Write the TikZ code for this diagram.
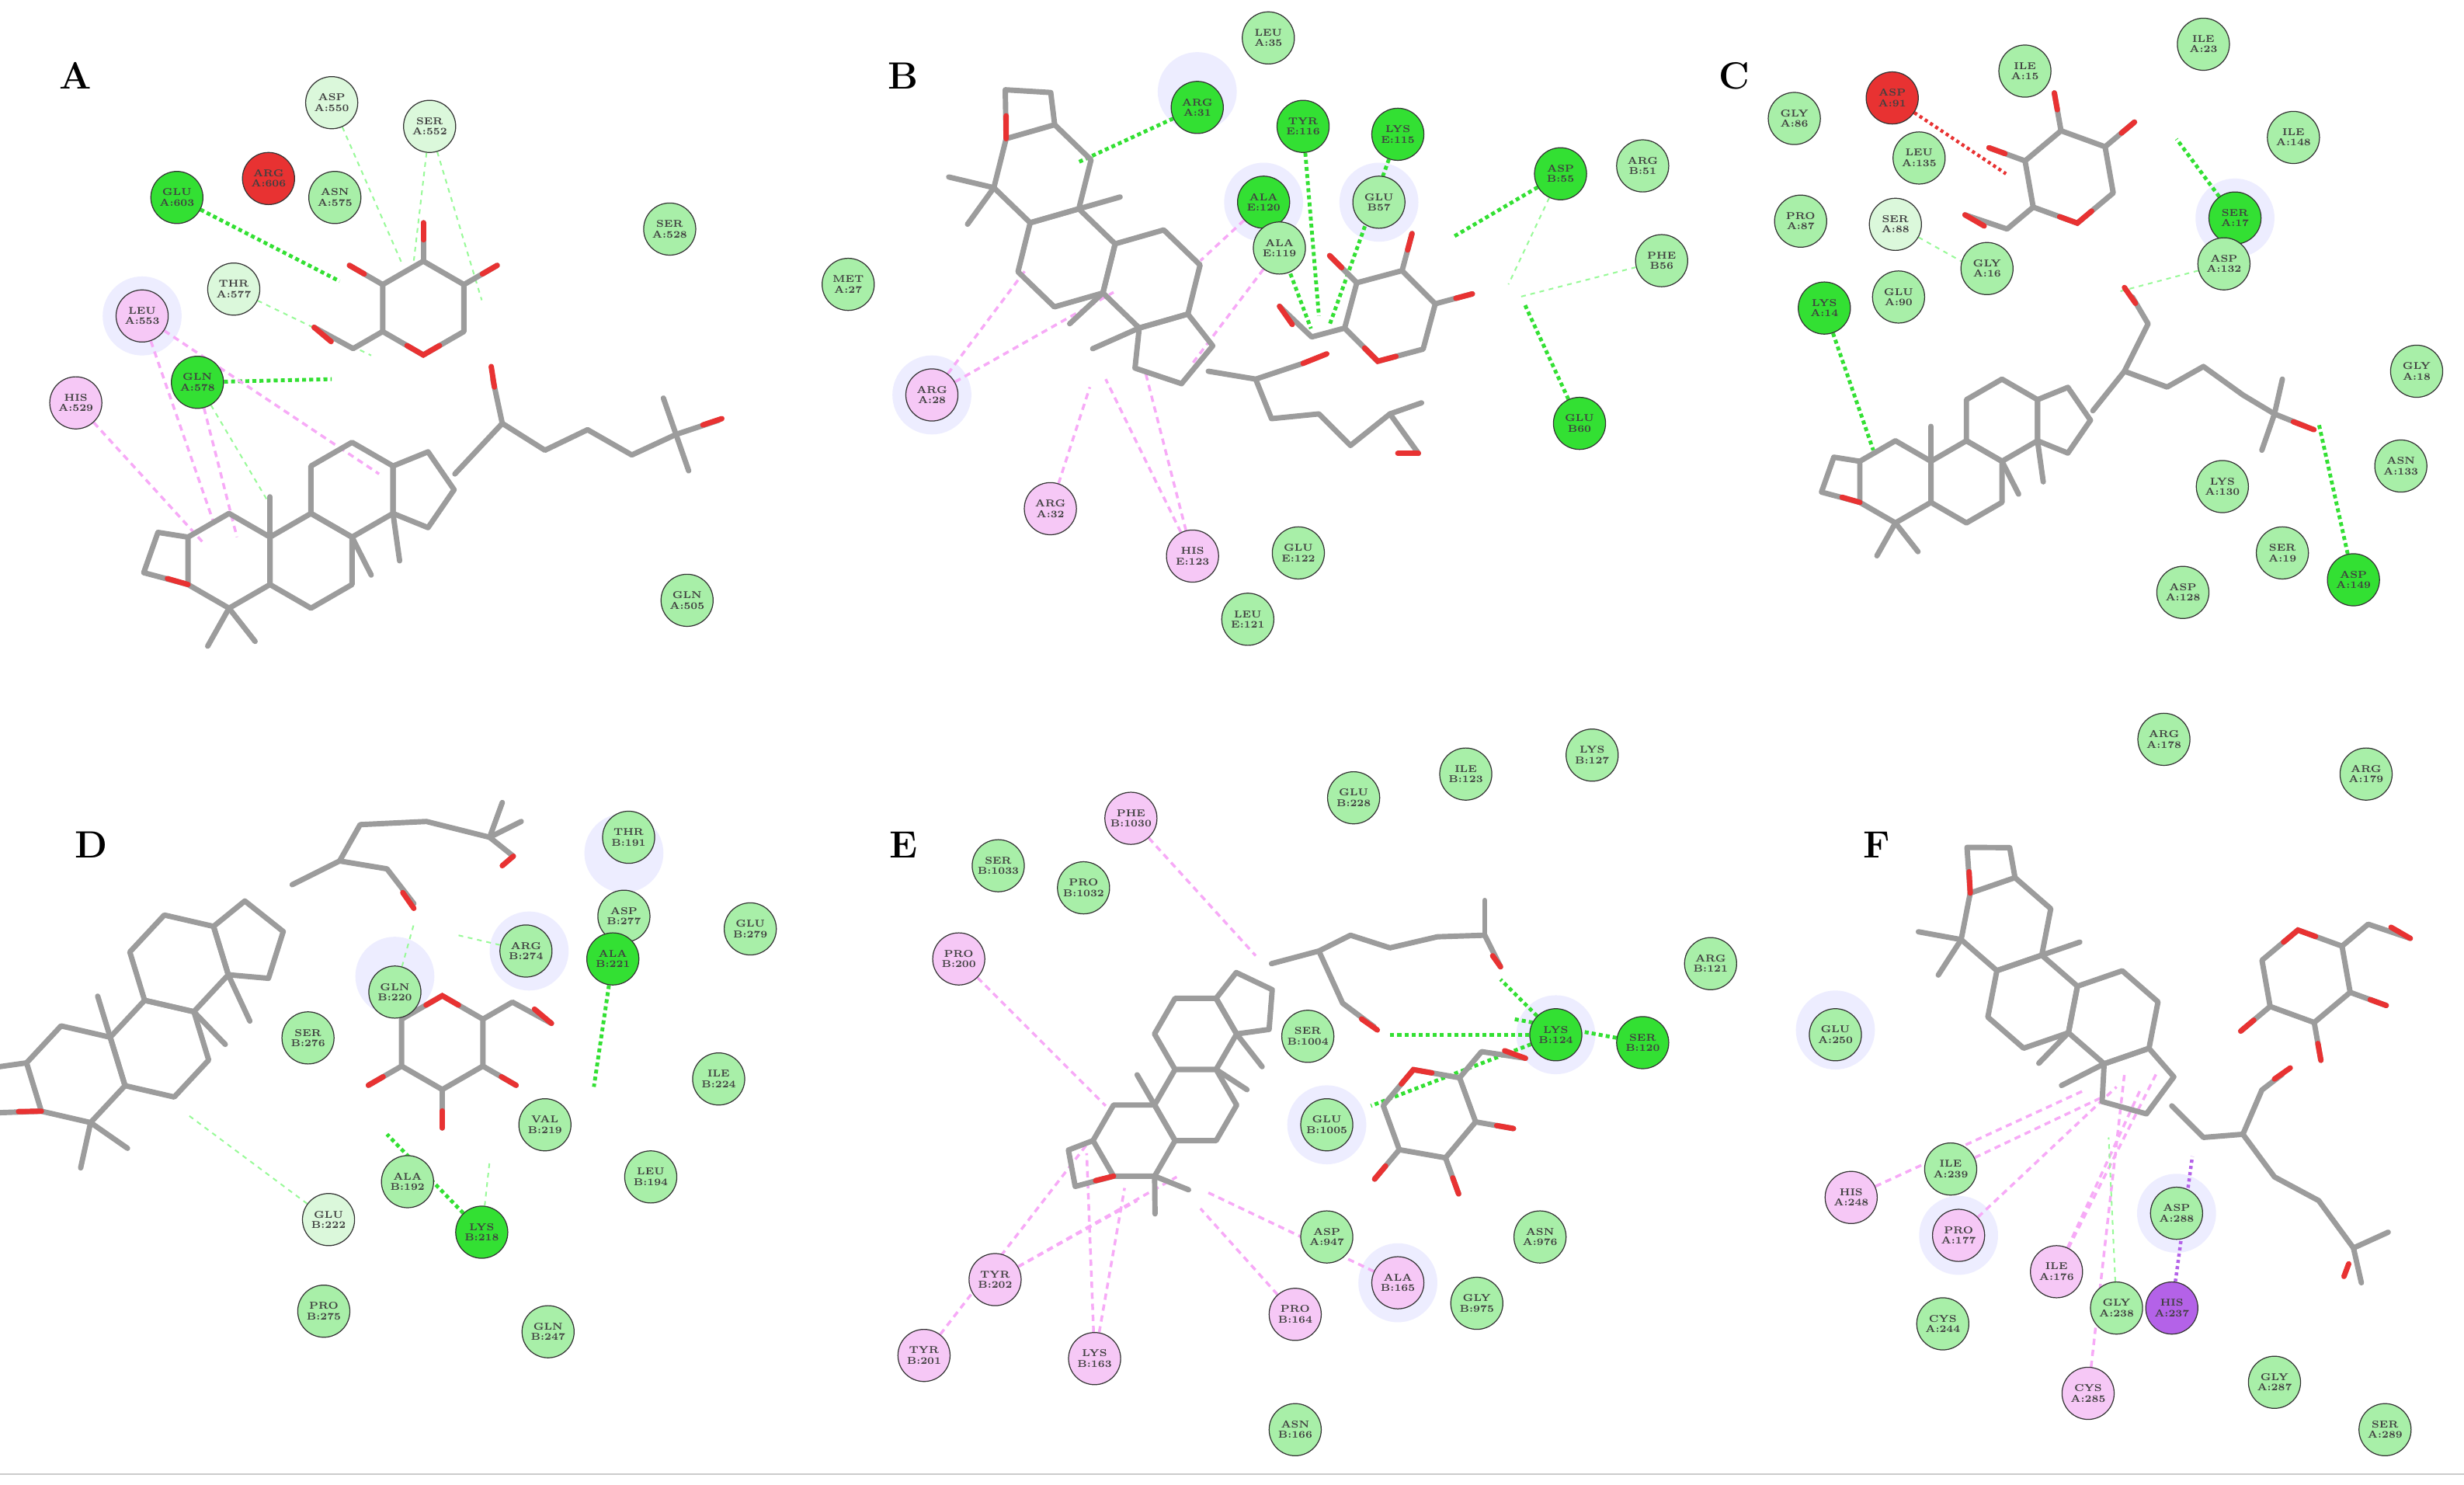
\documentclass[tikz,border=0pt]{standalone}
\usetikzlibrary{calc}
\pgfdeclarelayer{bg}
\pgfdeclarelayer{back}
\pgfsetlayers{back,bg,main}
\definecolor{cbr}{HTML}{33E033}
\definecolor{clt}{HTML}{A8EFA8}
\definecolor{cpl}{HTML}{DBF8DB}
\definecolor{cpk}{HTML}{F6C8F6}
\definecolor{crd}{HTML}{E83232}
\definecolor{cpu}{HTML}{B462E8}
\definecolor{cmol}{HTML}{9C9C9C}
\tikzset{
 x=1pt,y=-1pt,
 res/.style={circle,draw=black!80,line width=0.6pt,minimum size=33pt,inner sep=0pt,align=center,
   font=\fontsize{6.3}{6.6}\selectfont\bfseries,text=black!75},
 halo/.style={circle,fill=blue!7,minimum size=50pt},
 mol/.style={draw=cmol,line width=3.4pt,line join=round,line cap=round},
 molO/.style={draw=crd,line width=3.4pt,line cap=round},
 hb/.style={draw=cbr,line width=2.4pt,dash pattern=on 2.5pt off 2pt},
 rb/.style={draw=crd,line width=2.2pt,dash pattern=on 2pt off 2pt},
 pb/.style={draw=cpu,line width=2.2pt,dash pattern=on 2pt off 2pt},
 pk/.style={draw=cpk!85!magenta,line width=1.7pt,dash pattern=on 4pt off 3pt},
 pl/.style={draw=cpl!70!green,line width=1pt,dash pattern=on 3pt off 3pt},
 plab/.style={font=\fontsize{24}{24}\selectfont\bfseries},
 ster/.pic={
  \foreach \cx/\cy in {0/0,34.6/0,51.9/-30}
   \draw[mol] (\cx,\cy) +(30:20) -- +(90:20) -- +(150:20) -- +(210:20) -- +(270:20) -- +(330:20) -- cycle;
  \draw[mol] (69.2,-40)--(69.2,-20)--(84,-14)--(95,-30)--(84,-46)--cycle;
  \draw[mol] (17.3,-10)--(17.3,-27);
  \draw[mol] (51.9,-10)--(60,6);
  \draw[mol] (69.2,-20)--(72,0);
  \draw[mol] (-17.3,10)--(-36,5)--(-30,-12)--(-17.3,-10);
  \draw[molO] (-17.3,10)--(-26,7.5);
  \draw[mol] (0,20)--(-9,36);
  \draw[mol] (0,20)--(11,34);
 },
 sugar/.pic={
  \draw[mol] (30:22)--(90:22)--(150:22)--(210:22)--(270:22)--(330:22)--cycle;
  \draw[molO] ($(90:22)!0.4!(30:22)$)--(90:22)--($(90:22)!0.4!(150:22)$);
  \draw[mol] (330:22)--(330:40); \draw[molO] (330:32)--(330:40);
  \draw[mol] (210:22)--(210:40); \draw[molO] (210:32)--(210:40);
  \draw[mol] (270:22)--(270:40); \draw[molO] (270:32)--(270:40);
  \draw[mol] (150:22)--(150:38)--(170:52); \draw[molO] (160:46)--(170:52);
 }
}
\newcommand\res[5]{\node[res,fill=#5] (#1) at (#2) {#3\\#4};}
\begin{document}
\begin{tikzpicture}
\useasboundingbox (0,0) rectangle (1560,940);
\begin{pgfonlayer}{back}
\fill[white] (0,0) rectangle (1560,940);
\draw[gray!40,line width=0.8pt] (0,933)--(1560,933);
\foreach \p in {(90,200),(590,250),(758,58),(800,128),(873,128),(1415,138),(250,618),(335,602),(395,540),(985,655),(1378,768),(1240,782),(840,712),(1162,652),(885,812)}
 \node[halo] at \p {};
\end{pgfonlayer}
% labels
\node[plab] at (48,48) {A};
\node[plab] at (572,48) {B};
\node[plab] at (1098,48) {C};
\node[plab] at (58,535) {D};
\node[plab] at (572,535) {E};
\node[plab] at (1188,535) {F};
% ===== molecules =====
% A
\pic[scale=1.5] at (145,355) {ster};
\draw[mol] (288,300)--(318,268)--(345,285)--(372,272)--(400,288)--(428,275);
\draw[mol] (428,275)--(420,252); \draw[mol] (428,275)--(436,298);
\draw[mol] (428,275)--(455,266); \draw[molO] (445,269)--(457,265);
\draw[mol] (318,268)--(312,240); \draw[molO] (313,245)--(311,232);
\pic[scale=1.35] at (268,195) {sugar};
% B
\pic[scale=1.6,rotate=-74] at (660,110) {ster};
\draw[mol] (765,235)--(795,240)--(825,230); \draw[molO] (825,230)--(840,224);
\draw[mol] (795,240)--(805,265)--(835,262)--(855,282)--(880,262)--(898,287);
\draw[mol] (880,262)--(900,255); \draw[molO] (885,287)--(898,287);
\pic[scale=1.35,rotate=-15] at (880,200) {sugar};
% C
\pic[scale=1.3] at (1200,305) {ster};
\draw[mol] (1325,260)--(1345,235)--(1360,205)--(1350,188); \draw[molO] (1352,192)--(1345,182);
\draw[mol] (1345,235)--(1372,245)--(1395,232)--(1420,250)--(1440,262)--(1460,270);
\draw[mol] (1440,262)--(1445,240); \draw[mol] (1440,262)--(1432,285); \draw[molO] (1452,267)--(1465,272);
\pic[scale=1.35,rotate=10] at (1310,112) {sugar};
% D
\pic[scale=1.6,rotate=17] at (48,680) {ster};
\draw[mol] (185,560)--(215,545)--(245,550)--(262,572); \draw[molO] (255,565)--(262,575);
\draw[mol] (215,545)--(228,522)--(270,520)--(310,530)--(325,542);
\draw[mol] (310,530)--(318,508); \draw[mol] (310,530)--(330,520); \draw[molO] (318,548)--(325,542);
\pic[scale=1.35,rotate=180] at (280,660) {sugar};
% E
\pic[scale=1.3,rotate=30] at (718,722) {ster};
\draw[mol] (805,610)--(835,602)--(855,592)--(880,600)--(910,593)--(940,592);
\draw[mol] (940,592)--(940,570); \draw[mol] (940,592)--(950,612); \draw[molO] (945,605)--(950,612);
\draw[mol] (835,602)--(850,635)--(870,650); \draw[molO] (862,645)--(872,652);
\pic[scale=1.35,rotate=200] at (905,705) {sugar};
% F
\pic[scale=1.5,rotate=-71] at (1270,585) {ster};
\draw[mol] (1375,700)--(1395,720)--(1420,718)--(1440,745)--(1468,760)--(1490,790);
\draw[mol] (1490,790)--(1512,780); \draw[mol] (1490,790)--(1495,812); \draw[molO] (1487,800)--(1484,808);
\draw[mol] (1420,718)--(1432,690)--(1445,680); \draw[molO] (1440,683)--(1450,676);
\pic[scale=1.35,rotate=190] at (1460,618) {sugar};
% ===== residues =====
% A
\res{a550}{210,65}{ASP}{A:550}{cpl}
\res{a552}{272,80}{SER}{A:552}{cpl}
\res{a603}{112,125}{GLU}{A:603}{cbr}
\res{a606}{170,113}{ARG}{A:606}{crd}
\res{a575}{212,125}{ASN}{A:575}{clt}
\res{a528}{424,145}{SER}{A:528}{clt}
\res{a577}{148,183}{THR}{A:577}{cpl}
\res{a553}{90,200}{LEU}{A:553}{cpk}
\res{a578}{125,242}{GLN}{A:578}{cbr}
\res{a529}{48,255}{HIS}{A:529}{cpk}
\res{a505}{435,380}{GLN}{A:505}{clt}
% B
\res{b35}{803,24}{LEU}{A:35}{clt}
\res{b31}{758,68}{ARG}{A:31}{cbr}
\res{b116}{825,80}{TYR}{E:116}{cbr}
\res{b115}{885,85}{LYS}{E:115}{cbr}
\res{b55}{988,110}{ASP}{B:55}{cbr}
\res{b51}{1040,105}{ARG}{B:51}{clt}
\res{b120}{800,128}{ALA}{E:120}{cbr}
\res{b57}{873,128}{GLU}{B57}{clt}
\res{b119}{810,157}{ALA}{E:119}{clt}
\res{b27}{537,180}{MET}{A:27}{clt}
\res{b56}{1052,165}{PHE}{B56}{clt}
\res{b28}{590,250}{ARG}{A:28}{cpk}
\res{b60}{1000,268}{GLU}{B60}{cbr}
\res{b32}{665,322}{ARG}{A:32}{cpk}
\res{b123}{755,352}{HIS}{E:123}{cpk}
\res{b122}{822,350}{GLU}{E:122}{clt}
\res{b121}{790,392}{LEU}{E:121}{clt}
% C
\res{c91}{1198,62}{ASP}{A:91}{crd}
\res{c15}{1282,45}{ILE}{A:15}{clt}
\res{c23}{1395,28}{ILE}{A:23}{clt}
\res{c86}{1136,75}{GLY}{A:86}{clt}
\res{c135}{1215,100}{LEU}{A:135}{clt}
\res{c148}{1452,87}{ILE}{A:148}{clt}
\res{c87}{1140,140}{PRO}{A:87}{clt}
\res{c88}{1200,142}{SER}{A:88}{cpl}
\res{c16}{1258,170}{GLY}{A:16}{clt}
\res{c17}{1415,138}{SER}{A:17}{cbr}
\res{c132}{1408,167}{ASP}{A:132}{clt}
\res{c90}{1202,188}{GLU}{A:90}{clt}
\res{c14}{1155,195}{LYS}{A:14}{cbr}
\res{c18}{1530,235}{GLY}{A:18}{clt}
\res{c133}{1520,295}{ASN}{A:133}{clt}
\res{c130}{1407,308}{LYS}{A:130}{clt}
\res{c19}{1445,350}{SER}{A:19}{clt}
\res{c128}{1382,375}{ASP}{A:128}{clt}
\res{c149}{1490,367}{ASP}{A:149}{cbr}
% D
\res{d191}{398,530}{THR}{B:191}{clt}
\res{d277}{395,580}{ASP}{B:277}{clt}
\res{d221}{388,607}{ALA}{B:221}{cbr}
\res{d279}{475,588}{GLU}{B:279}{clt}
\res{d220}{250,628}{GLN}{B:220}{clt}
\res{d274}{333,602}{ARG}{B:274}{clt}
\res{d276}{195,657}{SER}{B:276}{clt}
\res{d224}{455,683}{ILE}{B:224}{clt}
\res{d219}{345,712}{VAL}{B:219}{clt}
\res{d194}{412,745}{LEU}{B:194}{clt}
\res{d192}{258,748}{ALA}{B:192}{clt}
\res{d222}{208,772}{GLU}{B:222}{cpl}
\res{d218}{305,780}{LYS}{B:218}{cbr}
\res{d275}{205,830}{PRO}{B:275}{clt}
\res{d247}{347,843}{GLN}{B:247}{clt}
% E
\res{e1030}{716,518}{PHE}{B:1030}{cpk}
\res{e228}{857,505}{GLU}{B:228}{clt}
\res{e123}{928,490}{ILE}{B:123}{clt}
\res{e127}{1008,478}{LYS}{B:127}{clt}
\res{e1033}{632,548}{SER}{B:1033}{clt}
\res{e1032}{686,562}{PRO}{B:1032}{clt}
\res{e200}{607,607}{PRO}{B:200}{cpk}
\res{e121}{1083,610}{ARG}{B:121}{clt}
\res{e1004}{828,656}{SER}{B:1004}{clt}
\res{e124}{985,655}{LYS}{B:124}{cbr}
\res{e120}{1040,660}{SER}{B:120}{cbr}
\res{e1005}{840,712}{GLU}{B:1005}{clt}
\res{e947}{840,783}{ASP}{A:947}{clt}
\res{e976}{975,783}{ASN}{A:976}{clt}
\res{e202}{630,810}{TYR}{B:202}{cpk}
\res{e165}{885,812}{ALA}{B:165}{cpk}
\res{e975}{935,825}{GLY}{B:975}{clt}
\res{e164}{820,832}{PRO}{B:164}{cpk}
\res{e201}{585,858}{TYR}{B:201}{cpk}
\res{e163}{693,860}{LYS}{B:163}{cpk}
\res{e166}{820,905}{ASN}{B:166}{clt}
% F
\res{f178}{1370,468}{ARG}{A:178}{clt}
\res{f179}{1498,490}{ARG}{A:179}{clt}
\res{f250}{1162,655}{GLU}{A:250}{clt}
\res{f239}{1235,740}{ILE}{A:239}{clt}
\res{f248}{1172,758}{HIS}{A:248}{cpk}
\res{f177}{1240,782}{PRO}{A:177}{cpk}
\res{f288}{1378,768}{ASP}{A:288}{clt}
\res{f176}{1302,805}{ILE}{A:176}{cpk}
\res{f238}{1340,828}{GLY}{A:238}{clt}
\res{f237}{1375,828}{HIS}{A:237}{cpu}
\res{f244}{1230,838}{CYS}{A:244}{clt}
\res{f285}{1322,882}{CYS}{A:285}{cpk}
\res{f287}{1440,875}{GLY}{A:287}{clt}
\res{f289}{1510,905}{SER}{A:289}{clt}
% ===== interactions =====
\begin{pgfonlayer}{bg}
\draw[hb] (a603)--(215,178); \draw[hb] (a578)--(210,240);
\draw[pk] (a553)--(240,300); \draw[pk] (a553)--(135,330); \draw[pk] (a529)--(130,345); \draw[pk] (a578)--(150,340);
\draw[pl] (a577)--(235,225); \draw[pl] (a550)--(255,168); \draw[pl] (a552)--(262,165); \draw[pl] (a552)--(305,190); \draw[pl] (a578)--(170,318);
\draw[hb] (b31)--(682,103); \draw[hb] (b116)--(835,200); \draw[hb] (b115)--(842,205);
\draw[hb] (b55)--(920,150); \draw[hb] (b60)--(965,192); \draw[hb] (b120)--(830,208);
\draw[pl] (b56)--(962,188); \draw[pl] (b55)--(955,180);
\draw[pk] (b28)--(650,170); \draw[pk] (b28)--(705,185); \draw[pk] (b32)--(690,245); \draw[pk] (b123)--(700,240); \draw[pk] (b123)--(725,235);
\draw[pk] (b120)--(760,165); \draw[pk] (b119)--(755,230);
\draw[rb] (c91)--(1270,110); \draw[hb] (c17)--(1378,88); \draw[hb] (c14)--(1186,285); \draw[hb] (c149)--(1468,268);
\draw[pl] (c132)--(1340,185); \draw[pl] (c88)--(1250,170);
\draw[hb] (d221)--(376,688); \draw[hb] (d218)--(245,718); \draw[pl] (d220)--(262,585); \draw[pl] (d274)--(290,592);
\draw[pl] (d222)--(118,705); \draw[pl] (d218)--(310,735);
\draw[hb] (e124)--(880,655); \draw[hb] (e124)--(950,620); \draw[hb] (e124)--(868,700); \draw[hb] (e120)--(958,645);
\draw[pk] (e1030)--(795,605); \draw[pk] (e200)--(700,700); \draw[pk] (e202)--(720,760); \draw[pk] (e202)--(745,745);
\draw[pk] (e201)--(690,722); \draw[pk] (e163)--(688,730); \draw[pk] (e163)--(712,752); \draw[pk] (e164)--(760,765); \draw[pk] (e165)--(765,755);
\draw[pb] (f237)--(1388,732);
\draw[pk] (f248)--(1320,690); \draw[pk] (f177)--(1340,688); \draw[pk] (f176)--(1355,690); \draw[pk] (f176)--(1365,680); \draw[pk] (f285)--(1345,680); \draw[pk] (f239)--(1330,695);
\draw[pl] (f238)--(1335,720);
\end{pgfonlayer}
\end{tikzpicture}
\end{document}
